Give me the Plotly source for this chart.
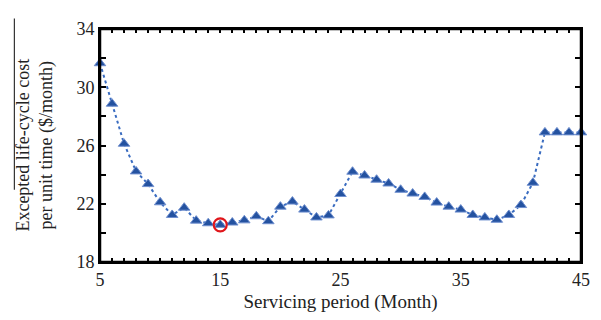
import plotly.graph_objects as go

months = list(range(5, 46))
cost = [31.65, 28.87, 26.12, 24.22, 23.35, 22.1, 21.23, 21.73, 20.84, 20.66,
        20.55, 20.71, 20.86, 21.14, 20.8, 21.8, 22.15, 21.6, 21.06, 21.2,
        22.67, 24.2, 23.94, 23.65, 23.39, 22.96, 22.7, 22.47, 22.08, 21.8,
        21.6, 21.23, 21.06, 20.9, 21.23, 21.91, 23.44, 26.9, 26.9, 26.9, 26.9]
opt_month = [15]
opt_cost = [20.55]

x_tickvals = list(range(5, 46, 1))
x_ticktext = [str(v) if v in (5, 15, 25, 35, 45) else "" for v in x_tickvals]
y_tickvals = list(range(18, 35, 2))
y_ticktext = [str(v) if v % 4 == 2 else "" for v in y_tickvals]

blue = "#2452a0"
font = "Liberation Serif"

fig = go.Figure()
fig.add_trace(go.Scatter(
    x=months, y=cost, mode="lines+markers",
    line=dict(color="#3a6cc0", width=2, dash="dot"),
    marker=dict(symbol="triangle-up", size=10, color=blue,
                line=dict(color="#6f8fcf", width=1)),
    showlegend=False, cliponaxis=False))
fig.add_trace(go.Scatter(
    x=opt_month, y=opt_cost, mode="markers",
    marker=dict(symbol="circle-open", size=13, color="#e0161b",
                line=dict(color="#e0161b", width=2.2)),
    showlegend=False, cliponaxis=False))

axis_common = dict(showline=True, linecolor="black", linewidth=2, mirror="allticks",
                   ticks="inside", tickcolor="black", showgrid=False, zeroline=False,
                   tickfont=dict(family=font, size=18, color="#222"))

fig.update_xaxes(range=[5, 45], tickvals=x_tickvals, ticktext=x_ticktext, ticklen=4,
                 tickwidth=1.5,
                 title=dict(text="Servicing period (Month)", font=dict(family=font, size=19, color="#222"),
                            standoff=6),
                 **axis_common)
fig.update_yaxes(range=[18, 34], tickvals=y_tickvals, ticktext=y_ticktext, ticklen=6,
                 tickwidth=1.5, **axis_common)

fig.add_annotation(xref="paper", yref="paper", x=-0.137, y=0.5,
                   text="Excepted life-cycle cost<br>per unit time ($/month)",
                   textangle=-90, showarrow=False, xanchor="center", yanchor="middle",
                   font=dict(family=font, size=18, color="#222"))
fig.add_shape(type="line", xref="paper", yref="paper", x0=-0.178, x1=-0.178,
              y0=0.31, y1=1.045, line=dict(color="#333", width=1.2))
fig.add_shape(type="rect", xref="x domain", yref="y domain", x0=0, x1=1, y0=0, y1=1,
              line=dict(color="#000", width=2.5), fillcolor="rgba(255,255,255,0)",
              layer="above")

fig.update_layout(width=593, height=312, margin=dict(l=92, r=11, t=13, b=55),
                  plot_bgcolor="rgba(0,0,0,0)", paper_bgcolor="white")

fig.write_html("out.html")
